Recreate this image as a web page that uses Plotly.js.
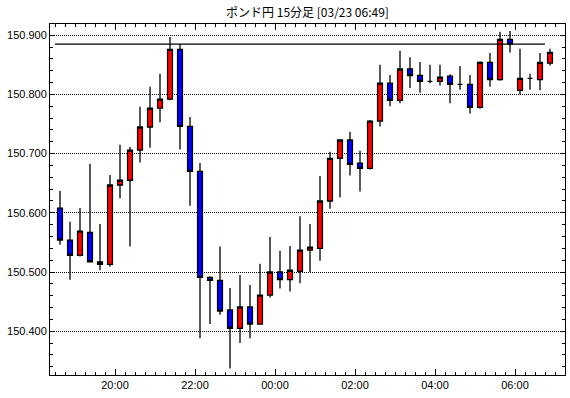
<!DOCTYPE html>
<html>
<head>
<meta charset="utf-8">
<script src="https://cdn.plot.ly/plotly-3.0.1.min.js"></script>
<style>html,body{margin:0;padding:0;background:#fff}#chart{width:570px;height:398px}</style>
</head>
<body>
<div id="chart"></div>
<script>
const titleText = "ポンド円 15分足 [03/23 06:49]";
const slots = ["18:30","18:45","19:00","19:15","19:30","19:45","20:00","20:15","20:30","20:45",
  "21:00","21:15","21:30","21:45","22:00","22:15","22:30","22:45","23:00","23:15",
  "23:30","23:45","00:00","00:15","00:30","00:45","01:00","01:15","01:30","01:45",
  "02:00","02:15","02:30","02:45","03:00","03:15","03:30","03:45","04:00","04:15",
  "04:30","04:45","05:00","05:15","05:30","05:45","06:00","06:15","06:30","06:45"];
const openP = [150.608,150.554,150.528,150.567,150.517,150.513,150.647,150.655,150.706,150.745,
  150.777,150.792,150.876,150.746,150.670,150.491,150.486,150.436,150.405,150.441,
  150.412,150.461,150.500,150.487,150.501,150.537,150.540,150.620,150.692,150.723,
  150.684,150.675,150.755,150.819,150.790,150.843,150.832,150.822,150.822,150.831,
  150.817,150.817,150.778,150.854,150.825,150.893,150.807,150.827,150.825,150.853];
const highP = [150.637,150.585,150.608,150.683,150.581,150.664,150.715,150.711,150.779,150.813,
  150.835,150.897,150.885,150.762,150.684,150.493,150.543,150.473,150.495,150.478,
  150.514,150.559,150.536,150.544,150.594,150.581,150.662,150.703,150.723,150.737,
  150.705,150.757,150.850,150.833,150.874,150.863,150.855,150.850,150.850,150.834,
  150.848,150.833,150.856,150.870,150.906,150.907,150.877,150.835,150.870,150.877];
const lowP = [150.546,150.487,150.526,150.517,150.503,150.509,150.624,150.543,150.685,150.710,
  150.753,150.790,150.707,150.612,150.388,150.412,150.428,150.337,150.380,150.388,
  150.412,150.457,150.472,150.467,150.481,150.500,150.519,150.607,150.626,150.663,
  150.636,150.673,150.746,150.780,150.785,150.811,150.803,150.819,150.815,150.785,
  150.808,150.768,150.776,150.813,150.823,150.871,150.800,150.808,150.807,150.849];
const closeP = [150.554,150.528,150.569,150.517,150.513,150.647,150.655,150.706,150.745,150.777,
  150.792,150.876,150.746,150.670,150.491,150.486,150.434,150.405,150.441,150.412,
  150.461,150.500,150.487,150.503,150.537,150.542,150.620,150.692,150.723,150.682,
  150.675,150.755,150.819,150.790,150.843,150.832,150.822,150.822,150.829,150.817,
  150.817,150.778,150.854,150.825,150.893,150.885,150.827,150.827,150.854,150.871];
const refLevel = 150.885;
const yTickVals = [150.4,150.5,150.6,150.7,150.8,150.9];

const times = slots.map(s => (parseInt(s) >= 12 ? "2024-03-22 " : "2024-03-23 ") + s);

const trace = {
  type: "candlestick",
  x: times, open: openP, high: highP, low: lowP, close: closeP,
  xperiod: 15*60*1000, xperiodalignment: "middle",
  increasing: {line: {color: "#000000", width: 1.3}, fillcolor: "#ff0000"},
  decreasing: {line: {color: "#000000", width: 1.3}, fillcolor: "#0000ff"},
  whiskerwidth: 0,
  hoverinfo: "skip"
};

const tickFont = {family: "Liberation Sans, Arial, sans-serif", size: 11, color: "#000"};
const layout = {
  width: 570, height: 398,
  margin: {l: 50, r: 5, t: 24, b: 23, pad: 0},
  paper_bgcolor: "#fff", plot_bgcolor: "#fff",
  showlegend: false,
  title: {text: titleText, x: 0.5, xref: "paper", y: 0.967, yref: "container", yanchor: "middle",
    font: {family: "Noto Sans CJK JP, sans-serif", size: 12, color: "#000"}},
  xaxis: {
    type: "date",
    range: ["2024-03-22 18:22:30", "2024-03-23 07:15"],
    rangeslider: {visible: false},
    tick0: "2024-03-22 20:00", dtick: 2*3600*1000, tickformat: "%H:%M",
    ticks: "inside", ticklen: 6, tickcolor: "#000", tickwidth: 1,
    minor: {dtick: 15*60*1000, tick0: "2024-03-22 20:00", ticks: "inside", ticklen: 3, tickcolor: "#000", tickwidth: 1, showgrid: false},
    showline: true, linecolor: "#000", linewidth: 1, mirror: "ticks",
    showgrid: false, zeroline: false, tickfont: tickFont, fixedrange: true
  },
  yaxis: {
    range: [150.326, 150.919],
    tickvals: yTickVals, tickformat: ".3f",
    ticks: "inside", ticklen: 5, tickcolor: "#000", tickwidth: 1,
    minor: {dtick: 0.02, tick0: 150.4, ticks: "inside", ticklen: 3, tickcolor: "#000", tickwidth: 1, showgrid: false},
    showline: true, linecolor: "#000", linewidth: 1, mirror: "ticks",
    showgrid: true, gridcolor: "#000", griddash: "1px,1px", gridwidth: 1,
    zeroline: false, tickfont: tickFont, fixedrange: true
  },
  shapes: [{type: "line", xref: "x", yref: "y", x0: times[0], x1: times[times.length-1],
    y0: refLevel, y1: refLevel, line: {color: "#000", width: 1.3}}]
};

Plotly.newPlot("chart", [trace], layout, {displayModeBar: false, staticPlot: true});
</script>
</body>
</html>
